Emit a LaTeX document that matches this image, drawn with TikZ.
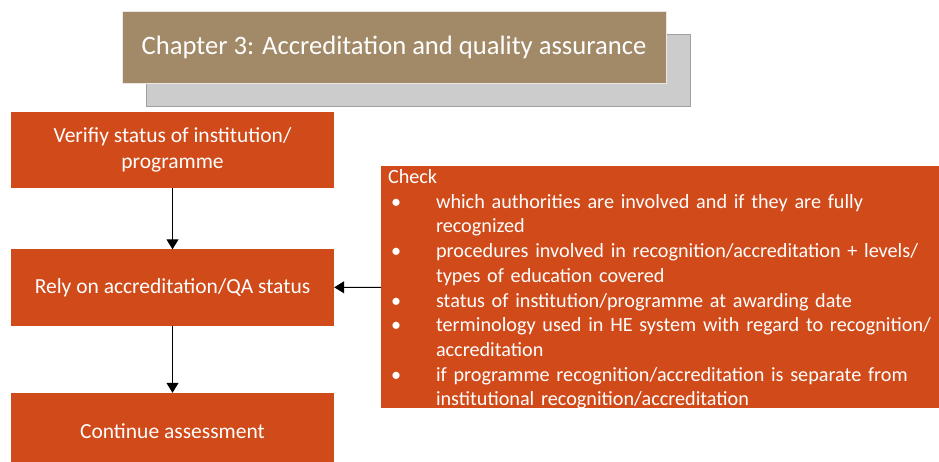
\documentclass[tikz,border=0pt]{standalone}
\usepackage{fontspec}
\setmainfont{Carlito}
\usepackage{tikz}
\usetikzlibrary{
    arrows.meta,
    calc,
    positioning
}
\definecolor{boxorange}{HTML}{D04A1A}
\definecolor{chaptan}{HTML}{A28A68}
\definecolor{shadowgrey}{HTML}{CCCCCC}
\definecolor{shadowline}{HTML}{A0A0A0}
\tikzset{
    stepbox/.style={fill=boxorange, draw=none, text=white, align=center,
        minimum width=323pt, minimum height=76pt, inner sep=0pt,
        font=\fontsize{21.5}{26}\selectfont},
    flow/.style={-{Triangle[length=10pt,width=12pt]}, line width=1pt, black}
}
\newcommand{\checkitem}[1]{\item #1}

\begin{document}
\begin{tikzpicture}[x=1pt, y=-1pt]
    \useasboundingbox (0, 0) rectangle (939, 462);
    % chapter header with its grey shadow
    \node[fill=shadowgrey, draw=shadowline, minimum width=544pt, minimum height=72pt] (shadow) at (418, 70) {};
    \node[fill=chaptan, draw=white!80!chaptan, text=white, minimum width=544pt, minimum height=72pt,
        font=\fontsize{26.6}{32}\selectfont] (chapter) at (394, 47) {Chapter 3: Accreditation and quality assurance};
    % steps
    \node[stepbox] (verify) at (172.5, 150) {Verifiy status of institution/\\programme};
    \node[stepbox] (rely) at (172.5, 287.5) {Rely on accreditation/QA status};
    \node[stepbox] (cont) at (172.5, 431) {Continue assessment};
    % check list
    \node[fill=boxorange, text=white, minimum width=558pt, minimum height=242pt, inner sep=0pt] (check) at (660, 287) {};
    \node[text=white, anchor=north west, inner sep=0pt, text width=552pt,
        font=\fontsize{20.2}{24.7}\selectfont] (checktext) at ($(check.north west) + (7, 3.5)$) {%
        Check
        \begin{list}{\textbullet}{\setlength{\leftmargin}{48pt}\setlength{\labelwidth}{10pt}
            \setlength{\labelsep}{35pt}\setlength{\itemsep}{0pt}\setlength{\parsep}{0pt}
            \setlength{\topsep}{0pt}\setlength{\partopsep}{0pt}}
            \raggedright
            \checkitem{which authorities are involved and if they are fully\\recognized}
            \checkitem{procedures involved in recognition/accreditation + levels/\\types of education covered}
            \checkitem{status of institution/programme at awarding date}
            \checkitem{terminology used in HE system with regard to recognition/\\accreditation}
            \checkitem{if programme recognition/accreditation is separate from\\institutional recognition/accreditation}
        \end{list}};
    \draw[flow] (verify) -- (rely);
    \draw[flow] (rely) -- (cont);
    \draw[flow] (check) -- (rely);
\end{tikzpicture}
\end{document}
